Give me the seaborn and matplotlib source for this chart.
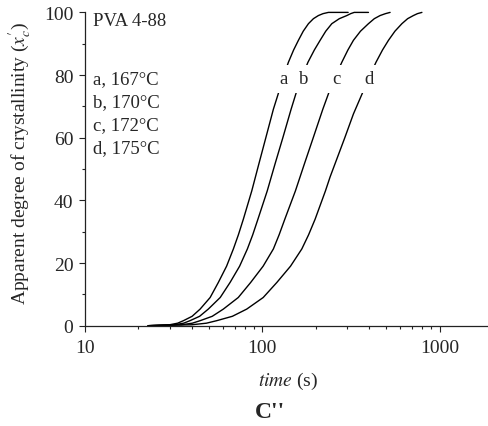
import matplotlib
matplotlib.use("Agg")
import matplotlib.pyplot as plt
import numpy as np
import pandas as pd
import seaborn as sns
from matplotlib.ticker import FuncFormatter, LogLocator, MultipleLocator, NullFormatter

# Isothermal crystallization of PVA 4-88: time (s) vs apparent crystallinity (%)
time_a = [22.7, 30, 33.3, 35.9, 40.2, 44.6, 50.8, 56.5, 62.9, 68.7, 73.3, 78.2, 87.2, 95.7,
          104.7, 115.5, 124.4, 132.5, 140.4, 150.2, 159.9, 170.2, 182.1, 194.3, 207.3, 220,
          236, 305]
xc_a = [0, 0.3, 0.8, 1.6, 3, 5.3, 9, 13.8, 19, 24.5, 29, 34, 43, 51.7,
        60, 69.1, 74.9, 80, 84.1, 88, 91.1, 94, 96.4, 98, 99, 99.6,
        100, 100]

time_b = [22.7, 32, 36.0, 39.1, 44.3, 49.6, 57.9, 65.8, 74.5, 82.4, 88.3, 94.5, 106.6, 118.1,
          130.6, 145.4, 156.6, 169, 181, 196.6, 212, 228, 246.7, 272, 300, 315,
          330, 397]
xc_b = [0, 0.3, 0.8, 1.6, 3, 5.3, 9, 13.8, 19, 24.5, 29, 34, 43, 51.7,
        60, 69.1, 75, 80, 84.1, 88, 91.1, 94, 96.4, 98, 99, 99.6,
        100, 100]

time_c = [22.7, 35, 40.3, 44.6, 52.2, 60.3, 73.2, 86, 101.1, 115.5, 124.4, 134, 153.7, 172.9,
          193.8, 219.5, 241.3, 260.5, 281, 304, 326.7, 358, 397, 428.5, 462, 495,
          526]
xc_c = [0, 0.3, 0.8, 1.6, 3, 5.3, 9, 13.8, 19, 24.5, 29, 34, 43, 51.7,
        60, 69.1, 75.5, 80, 84.1, 88, 91.1, 94, 96.4, 98, 99, 99.6,
        100]

time_d = [22.7, 40, 48.4, 55.3, 67.8, 81.7, 101.2, 120.8, 144.3, 167.1, 182.4, 198.6, 227, 241.3,
          292, 326.7, 372, 405.5, 438, 476.5, 515, 560, 613, 660.5, 712, 750,
          795]
xc_d = [0, 0.3, 0.8, 1.6, 3, 5.3, 9, 13.8, 19, 24.5, 29, 34, 43, 47.5,
        60, 67.6, 75, 80, 84.1, 88, 91.1, 94, 96.4, 98, 99, 99.6,
        100]

curve_ids = ["a", "b", "c", "d"]
temperatures = ["167°C", "170°C", "172°C", "175°C"]
curve_label_time = [131.5, 172, 261, 400]
curve_label_xc = 77.4

series = [(time_a, xc_a), (time_b, xc_b), (time_c, xc_c), (time_d, xc_d)]
df = pd.concat(
    [pd.DataFrame({"time": t, "xc": x, "sample": cid}) for cid, (t, x) in zip(curve_ids, series)],
    ignore_index=True,
)

sns.set_style("ticks")
plt.rcParams["font.family"] = ["Liberation Serif", "DejaVu Serif"]
plt.rcParams["mathtext.fontset"] = "stix"

fig = plt.figure(figsize=(4.89, 4.27), dpi=100)
ax = fig.add_axes([85 / 489, 1 - 326.7 / 427, 404 / 489, 313.3 / 427])

sns.lineplot(
    data=df, x="time", y="xc", hue="sample", palette=["black"] * 4,
    estimator=None, sort=False, legend=False, ax=ax, linewidth=1.0,
)
for ln in ax.lines:
    ln.set_clip_on(False)
    ln.set_solid_joinstyle("round")

ax.set_xscale("log")
ax.set_xlim(10, 1900)
ax.set_ylim(0, 100)
ax.xaxis.set_major_locator(LogLocator(base=10))
ax.xaxis.set_minor_locator(LogLocator(base=10, subs=np.arange(2, 10)))
ax.xaxis.set_major_formatter(FuncFormatter(lambda v, _: f"{v:g}"))
ax.xaxis.set_minor_formatter(NullFormatter())
ax.yaxis.set_major_locator(MultipleLocator(20))
ax.yaxis.set_minor_locator(MultipleLocator(10))

sns.despine(ax=ax)
for side in ("left", "bottom"):
    ax.spines[side].set_linewidth(0.9)
    ax.spines[side].set_color("#222222")
ax.tick_params(which="major", direction="out", length=4.3, width=0.8, color="#222222",
               labelsize=14, pad=4)
ax.tick_params(which="minor", direction="out", length=2.4, width=0.8, color="#222222")
ax.tick_params(axis="x", which="major", pad=5)
ax.set_xlabel("")
ax.set_ylabel("")

# Panel annotations
ax.text(0.0205, 0.960, "PVA 4-88", transform=ax.transAxes, fontsize=13.5,
        ha="left", va="baseline")
for i, (cid, temp) in enumerate(zip(curve_ids, temperatures)):
    ax.text(0.0205, 0.775 - i * 0.0735, f"{cid}, {temp}", transform=ax.transAxes,
            fontsize=13.5, ha="left", va="baseline")

# Curve labels sit on a white patch that breaks the lines
for cid, t in zip(curve_ids, curve_label_time):
    ax.text(t, curve_label_xc, cid, fontsize=13.5, ha="center", va="baseline", zorder=5,
            bbox=dict(boxstyle="square,pad=0.3", facecolor="white", edgecolor="none"))

fig.text(20 / 489, 1 - 163 / 427, r"Apparent degree of crystallinity ($x_c^{\prime}$)",
         rotation=90, ha="center", va="center", fontsize=14)
fig.text(288 / 489, 1 - 381.7 / 427, r"$\mathit{time}$ (s)", ha="center", va="center",
         fontsize=14)
fig.text(270 / 489, 1 - 413 / 427, "C''", ha="center", va="center", fontsize=17,
         fontweight="bold")

fig.savefig("out.png", dpi=100, facecolor="white")
